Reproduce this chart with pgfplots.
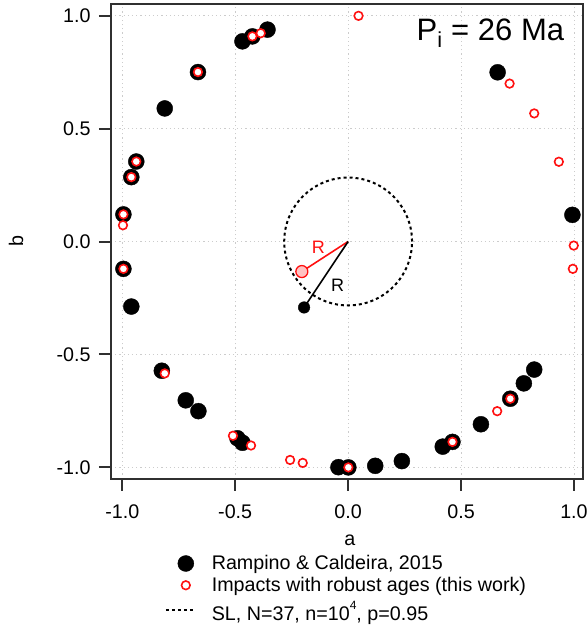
\documentclass[border=0pt]{standalone}
\usepackage{fontspec}
\setmainfont{Liberation Sans}
\usepackage{pgfplots}
\usepackage{pgfplotstable}
\pgfplotsset{compat=1.18}
\definecolor{ired}{HTML}{FF1010}
\definecolor{axcol}{HTML}{303030}
\pgfplotsset{
  markleg/.style={legend image code/.code={\path (0pt,0pt) (30pt,0pt); \draw[##1] plot coordinates {(20pt,0pt)};}},
  lineleg/.style={legend image code/.code={\draw[##1] (0pt,0pt) -- (30pt,0pt);}},
}

\pgfplotstableread{
a b
-0.468 0.886
-0.424 0.908
-0.357 0.938
-0.665 0.750
-0.812 0.589
-0.938 0.354
-0.960 0.285
-0.995 0.120
-0.995 -0.121
-0.960 -0.288
-0.825 -0.572
-0.719 -0.703
-0.663 -0.751
-0.490 -0.871
-0.468 -0.891
-0.043 -0.999
0.001 -1.000
0.120 -0.993
0.238 -0.972
0.419 -0.908
0.462 -0.887
0.588 -0.809
0.718 -0.696
0.778 -0.628
0.824 -0.567
0.662 0.749
0.993 0.118
}\rampino

\pgfplotstableread{
a b
-0.424 0.908
-0.387 0.922
-0.665 0.750
-0.938 0.354
-0.960 0.285
-0.995 0.120
-0.997 0.072
-0.995 -0.121
-0.812 -0.584
-0.510 -0.860
-0.430 -0.903
-0.257 -0.967
-0.201 -0.980
0.001 -1.000
0.462 -0.887
0.660 -0.751
0.718 -0.696
0.715 0.699
0.824 0.567
0.933 0.353
0.999 -0.018
0.995 -0.121
0.046 0.999
}\impacts

\begin{document}
\begin{tikzpicture}[font=\fontsize{19.7}{23}\selectfont]
\begin{axis}[
  at={(0pt,0pt)}, anchor=south west,
  scale only axis, width=472pt, height=474.4pt,
  xmin=-1.05, xmax=1.04, ymin=-1.05, ymax=1.05,
  axis line style={line width=2pt, axcol},
  tick pos=left, tick align=outside, major tick length=12pt,
  tick style={line width=2pt, axcol},
  xtick={-1,-0.5,0,0.5,1}, xticklabels={-1.0,-0.5,0.0,0.5,1.0},
  ytick={-1,-0.5,0,0.5,1}, yticklabels={-1.0,-0.5,0.0,0.5,1.0},
  xticklabel style={yshift=-11pt},
  yticklabel style={xshift=-5pt},
  grid=major, grid style={dash pattern=on 1.2pt off 3pt, line width=0.9pt, black!20},
  xlabel={a}, ylabel={b},
  every axis x label/.style={at={(axis description cs:0.506,-0.129)}, anchor=center},
  every axis y label/.style={at={(axis description cs:-0.201,0.501)}, anchor=center, rotate=90},
  legend style={at={(axis description cs:0.114,-0.160)}, anchor=north west,
    draw=none, fill=none, inner sep=0pt, outer sep=0pt, row sep=4pt, column sep=15pt,
    nodes={inner xsep=0pt, inner ysep=1pt}},
  legend cell align=left,
  clip=false,
]
\addlegendimage{markleg, only marks, mark=*, mark size=8pt, black}
\addlegendimage{markleg, only marks, mark=*, mark size=4.3pt, draw=ired, line width=1.6pt, mark options={fill=white, draw=ired}}
\addlegendimage{lineleg, black, line width=2pt, dash pattern=on 3pt off 3pt}
\legend{Rampino \& Caldeira{,} 2015, Impacts with robust ages (this work), {\rule{0pt}{21pt}SL, N=37, n=10\raisebox{0.55em}{\fontsize{12}{14}\selectfont 4}, p=0.95}}

% significance circle
\draw[black, line width=2pt, dash pattern=on 3pt off 3pt] (axis cs:0,0) circle[radius=0.283];

\addplot[only marks, mark=*, mark size=8pt, black, forget plot] table[x=a,y=b] {\rampino};
\addplot[only marks, mark=*, mark size=4.3pt, draw=ired, line width=1.6pt, mark options={fill=white, draw=ired}, forget plot] table[x=a,y=b] {\impacts};

% resultant vectors
\addplot[ired, line width=1.6pt, forget plot] coordinates {(0,0) (-0.205,-0.133)};
\addplot[black, line width=1.6pt, forget plot] coordinates {(0,0) (-0.195,-0.292)};
\addplot[only marks, mark=*, mark size=6pt, draw=ired, line width=1.3pt, mark options={fill=ired!25, draw=ired}, forget plot] coordinates {(-0.205,-0.133)};
\addplot[only marks, mark=*, mark size=5.8pt, black, forget plot] coordinates {(-0.195,-0.292)};

\node[ired, font=\fontsize{18}{20}\selectfont] at (axis cs:-0.132,-0.025) {R};
\node[black, font=\fontsize{18}{20}\selectfont] at (axis cs:-0.046,-0.196) {R};
\node[anchor=base east, font=\fontsize{31}{36}\selectfont] at (axis cs:0.972,0.891) {P\textsubscript{i} = 26 Ma};
\end{axis}
\pgfresetboundingbox
\path[use as bounding box] (-111pt,-154.3pt) rectangle (477pt,478.7pt);
\end{tikzpicture}
\end{document}
